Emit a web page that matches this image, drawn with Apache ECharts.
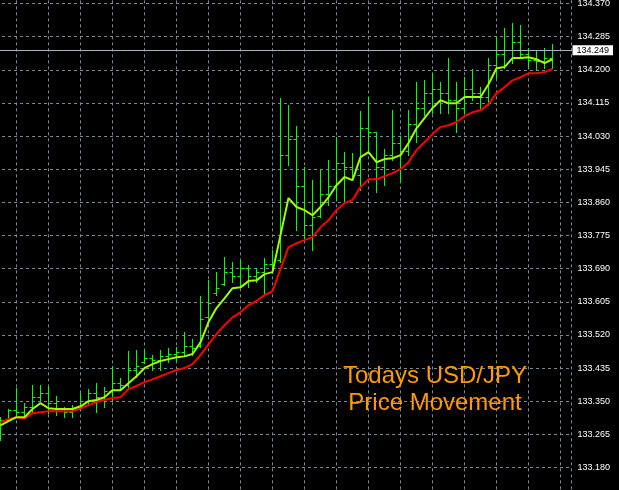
<!DOCTYPE html>
<html><head><meta charset="utf-8">
<script src="https://cdn.jsdelivr.net/npm/echarts@6/dist/echarts.min.js"></script>
<style>
html,body{margin:0;padding:0;background:#000;width:619px;height:490px;overflow:hidden;position:relative;}
#c{position:absolute;left:-16px;top:-30px;width:635px;height:531px;}
</style>
</head><body><div id="c"></div>
<script>
// bar index (time slots)
const barIndex = [0,1,2,3,4,5,6,7,8,9,10,11,12,13,14,15,16,17,18,19,20,21,22,23,24,25,26,27,28,29,30,31,32,33,34,35,36,37,38,39,40,41,42,43,44,45,46,47,48,49,50,51,52,53,54,55,56,57,58,59,60,61,62,63,64,65,66,67,68,69];
const opens = [133.290,133.300,133.325,133.320,133.335,133.360,133.370,133.345,133.330,133.320,133.330,133.350,133.370,133.360,133.375,133.395,133.390,133.430,133.450,133.460,133.455,133.465,133.470,133.475,133.490,133.490,133.565,133.625,133.650,133.680,133.670,133.690,133.670,133.680,133.700,133.710,133.980,134.020,133.900,133.800,133.825,133.880,133.900,133.960,133.950,133.930,134.050,134.040,133.950,133.980,134.010,133.990,134.060,134.100,134.140,134.150,134.140,134.120,134.100,134.150,134.140,134.130,134.210,134.240,134.250,134.270,134.240,134.225,134.220,134.230];
const highs = [133.309,133.330,133.383,133.345,133.391,133.391,133.389,133.363,133.335,133.340,133.371,133.381,133.396,133.386,133.440,133.409,133.478,133.481,133.481,133.468,133.481,133.486,133.489,133.527,133.509,133.619,133.660,133.681,133.719,133.707,133.712,133.699,133.691,133.717,133.737,134.127,134.109,134.055,133.950,133.917,133.945,133.968,134.027,133.989,133.986,134.094,134.130,134.040,133.996,134.096,134.030,134.096,134.168,134.173,134.191,134.168,134.230,134.168,134.181,134.202,134.155,134.230,134.284,134.307,134.320,134.314,134.255,134.250,134.255,134.266];
const lows = [133.250,133.299,133.309,133.309,133.322,133.353,133.319,133.314,133.309,133.309,133.327,133.340,133.322,133.335,133.353,133.378,133.386,133.412,133.448,133.430,133.430,133.450,133.455,133.468,133.468,133.489,133.563,133.622,133.648,133.655,133.642,133.642,133.655,133.627,133.678,133.707,133.955,133.789,133.763,133.737,133.822,133.853,133.866,133.860,133.917,133.891,133.986,133.886,133.904,133.968,133.912,133.981,134.014,134.084,134.089,134.089,134.089,134.040,134.089,134.122,134.102,134.109,134.178,134.204,134.217,134.230,134.204,134.199,134.204,134.204];
const closes = [133.300,133.325,133.320,133.335,133.360,133.370,133.345,133.350,133.320,133.325,133.350,133.370,133.360,133.375,133.395,133.390,133.430,133.440,133.460,133.455,133.465,133.470,133.475,133.490,133.485,133.560,133.600,133.640,133.680,133.670,133.690,133.670,133.680,133.700,133.690,133.980,134.020,133.900,133.800,133.820,133.880,133.900,133.960,133.950,133.930,134.050,134.040,133.950,133.980,134.010,133.990,134.060,134.100,134.140,134.150,134.140,134.120,134.100,134.150,134.140,134.130,134.210,134.240,134.250,134.270,134.240,134.225,134.220,134.230,134.249];
const fastMA = [133.288,133.299,133.309,133.309,133.330,133.345,133.332,133.330,133.330,133.330,133.337,133.350,133.353,133.360,133.378,133.378,133.396,133.414,133.435,133.445,133.453,133.458,133.463,133.465,133.471,133.501,133.553,133.589,133.614,133.640,133.642,133.658,133.660,133.676,133.681,133.776,133.871,133.848,133.840,133.827,133.848,133.873,133.904,133.925,133.917,133.976,133.989,133.963,133.971,133.973,133.981,134.012,134.050,134.076,134.102,134.122,134.114,134.114,134.130,134.130,134.130,134.163,134.204,134.207,134.230,134.230,134.232,134.227,134.217,134.227];
const slowMA = [133.296,133.304,133.309,133.306,133.319,133.322,133.324,133.324,133.324,133.324,133.332,133.340,133.348,133.353,133.358,133.360,133.381,133.389,133.399,133.406,133.414,133.422,133.430,133.435,133.445,133.468,133.496,133.522,133.545,133.565,133.578,133.596,133.607,133.622,133.632,133.689,133.745,133.755,133.763,133.771,133.796,133.814,133.840,133.858,133.866,133.899,133.919,133.919,133.927,133.935,133.945,133.963,133.994,134.014,134.035,134.053,134.058,134.066,134.081,134.091,134.096,134.112,134.140,134.155,134.173,134.181,134.191,134.191,134.194,134.202];
const tickLabels = ['', '133.180','133.265','133.350','133.435','133.520','133.605','133.690','133.775','133.860','133.945','134.030','134.115','134.200','134.285','134.370',''];
const currentPrice = 134.249;
const currentPriceLabel = '134.249';
const titleLines = ['Todays USD/JPY', 'Price Movement'];

const ohlc = barIndex.map((k,i)=>[k, opens[i], highs[i], lows[i], closes[i]]);
const fastData = barIndex.map((k,i)=>[k, fastMA[i]]);
const slowData = barIndex.map((k,i)=>[k, slowMA[i]]);

const GRID = '#778899';
const chart = echarts.init(document.getElementById('c'), null, {renderer:'canvas'});
const snap = v => Math.round(v - 0.5) + 0.5;
chart.setOption({
  backgroundColor:'#000',
  animation:false,
  grid:{left:0, right:47.5, top:0.357, bottom:0.357, containLabel:false},
  xAxis:[
    {type:'value', min:-2.0625, max:71.375, show:false},
    {type:'value', min:0, max:73.4375, interval:4, show:true,
     axisLine:{show:false}, axisTick:{show:false}, axisLabel:{show:false},
     splitLine:{show:true, lineStyle:{color:GRID, type:[3,3], width:1}}}
  ],
  yAxis:[
    {type:'value', min:133.095, max:134.455, show:false, position:'right'},
    {type:'value', min:0, max:16, interval:1, position:'right',
     axisLine:{show:true, lineStyle:{color:'#ffffff', width:1}},
     axisTick:{show:true, length:4, lineStyle:{color:'#ffffff'}},
     axisLabel:{color:'#ffffff', fontSize:9, fontFamily:'Liberation Sans', margin:6,
       formatter:(v)=>tickLabels[Math.round(v)] || ''},
     splitLine:{show:true, lineStyle:{color:GRID, type:[3,3], width:1}}}
  ],
  graphic:[{
    type:'text', x:451, y:393, z:1,
    style:{text:titleLines.join('\n'), fill:'#ff9900', font:'24px "Liberation Sans"', textAlign:'center', lineHeight:27}
  }],
  series:[
    {
      type:'custom', xAxisIndex:0, yAxisIndex:0, data:ohlc, clip:true, z:3,
      encode:{x:0, y:[1,2,3,4]},
      renderItem(params, api){
        const x = api.value(0);
        const o = api.coord([x, api.value(1)]);
        const h = api.coord([x, api.value(2)]);
        const l = api.coord([x, api.value(3)]);
        const c = api.coord([x, api.value(4)]);
        const px = snap(h[0]);
        const st = {stroke:'#00ff00', lineWidth:1};
        return {type:'group', children:[
          {type:'line', shape:{x1:px, y1:Math.round(h[1]), x2:px, y2:Math.round(l[1])+1}, style:st},
          {type:'line', shape:{x1:px-3, y1:snap(o[1]), x2:px, y2:snap(o[1])}, style:st},
          {type:'line', shape:{x1:px, y1:snap(c[1]), x2:px+3, y2:snap(c[1])}, style:st}
        ]};
      },
      markLine:{
        silent:true, symbol:['none','none'],
        lineStyle:{color:'#a9b2c0', type:'solid', width:1},
        label:{show:true, position:'end', distance:1, formatter:currentPriceLabel,
          color:'#000', backgroundColor:'#ffffff', fontSize:9, fontFamily:'Liberation Sans',
          padding:[1,4,0,4], lineHeight:9},
        data:[{yAxis:currentPrice}]
      }
    },
    {type:'line', xAxisIndex:0, yAxisIndex:0, data:slowData, showSymbol:false, symbol:'none', z:4,
     lineStyle:{color:'#ff0000', width:2}},
    {type:'line', xAxisIndex:0, yAxisIndex:0, data:fastData, showSymbol:false, symbol:'none', z:5,
     lineStyle:{color:'#9cff00', width:2}}
  ]
});
</script></body></html>
